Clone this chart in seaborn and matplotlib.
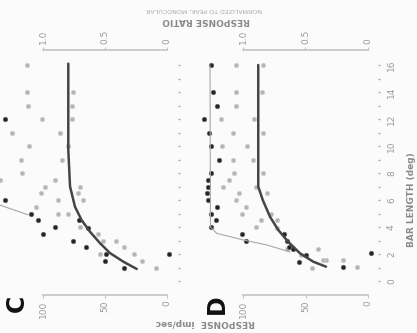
import numpy as np
import pandas as pd
import matplotlib
matplotlib.use("Agg")
import matplotlib.pyplot as plt
import seaborn as sns

sns.set_theme(style="white")
plt.rcParams['font.family'] = ['DejaVu Sans']

# ---------------- data (response imp/sec, bar length deg) ----------------
c_black_resp = [131, 131, 110, 104, 71, 90, 64, 100, 76, 65, 49, 50, 35, -2]
c_black_len  = [12, 6, 5, 4.5, 4.5, 4, 3.9, 3.5, 3, 2.5, 2, 1.5, 1, 2]

c_gray_resp = [113, 113, 76, 112, 77, 101, 77, 125, 86, 111, 80, 118, 85, 117, 135, 90,
               98, 70, 102, 72, 88, 68, 106, 88, 80, 70, 56, 52, 41, 35, 54, 27, 20, 9]
c_gray_len  = [16, 14, 14, 13, 13, 12, 12, 11, 11, 10, 10, 9, 9, 8, 7.5, 7.5,
               7, 7, 6.5, 6.5, 6, 6, 5.5, 5, 5, 4, 3.5, 3, 3, 2.5, 2, 2, 1.5, 1]

c_fit_resp = [79.6, 79.6, 78.2, 74.2, 68.8, 62.1, 54.0, 46.0, 35.2, 24.4]
c_fit_len  = [16.1, 9.7, 7.0, 5.5, 4.5, 3.65, 2.8, 2.07, 1.43, 0.89]

c_thin_resp = [150, 134, 112]
c_thin_len  = [6.4, 5.6, 4.9]

d_black_resp = [126, 124, 121, 131, 127, 126, 119, 126, 128, 128, 129, 128, 121, 126,
                122, 126, 101, 67, 98, 65, 63, 60, 50, 55, 20, -2]
d_black_len  = [16, 14, 13, 12, 11, 10, 9, 8, 7.5, 7, 6.5, 6, 5.5, 5,
                4.5, 4, 3.5, 3.5, 3, 3, 2.5, 2.4, 1.9, 1.4, 1.05, 2.05]

d_gray_resp = [106, 84, 106, 85, 106, 118, 91, 108, 84, 117, 97, 108, 92, 107, 84, 111,
               116, 90, 103, 81, 106, 98, 101, 78, 86, 73, 90, 73, 65, 40, 54, 34,
               45, 9, 20, 36]
d_gray_len  = [16, 16, 14, 14, 13, 12, 12, 11, 11, 10, 10, 9, 9, 8, 8, 7.5,
               7, 7, 6.5, 6.5, 6, 5.5, 5, 5, 4.5, 4.5, 4, 3.9, 2.4, 2.4, 1.9, 1.55,
               0.95, 1.05, 1.55, 1.55]

d_fit_resp = [87.8, 87.8, 84.2, 78.4, 71.8, 63.8, 54.4, 43.8, 33.6]
d_fit_len  = [16.0, 7.0, 6.0, 4.76, 3.78, 2.9, 2.05, 1.43, 1.06]

d_thin_resp = [126.4, 126.0, 121.0, 99.8, 81.0, 62.4]
d_thin_len  = [16.0, 4.0, 3.53, 3.04, 2.67, 2.15]

len_ticks = [0, 2, 4, 6, 8, 10, 12, 14, 16]
resp_ticks = [100, 50, 0]
resp_tick_labels = ["100", "50", "0"]
ratio_ticks = [1.0, 0.5, 0.0]
ratio_tick_labels = ["1.0", "0.5", "0"]

# ---------------- figure ----------------
W, H = 417, 333
fig = plt.figure(figsize=(W / 100, H / 100), dpi=100)
fig.patch.set_facecolor("#fbfbfb")

BLACK = "#222222"
GRAY = "#b4b4b4"
SPINE = "#c4c4c4"
TXT = "#9a9a9a"

def px(x0, x1, y0, y1):
    return [x0 / W, 1 - y1 / H, (x1 - x0) / W, (y1 - y0) / H]

ylim = ((281 - 295) / 13.5, (281 - 50) / 13.5)

panels = [
    dict(pos=px(-20, 180, 50, 295), xlim=((167 + 20) / 1.24, (167 - 180) / 1.24),
         black=(c_black_resp, c_black_len), gray=(c_gray_resp, c_gray_len),
         fit=(c_fit_resp, c_fit_len), thin=(c_thin_resp, c_thin_len), labels=False),
    dict(pos=px(190, 380, 50, 295), xlim=((368 - 190) / 1.25, (368 - 380) / 1.25),
         black=(d_black_resp, d_black_len), gray=(d_gray_resp, d_gray_len),
         fit=(d_fit_resp, d_fit_len), thin=(d_thin_resp, d_thin_len), labels=True),
]

for p in panels:
    ax = fig.add_axes(p["pos"])
    ax.set_facecolor("none")
    thin = pd.DataFrame({"r": p["thin"][0], "l": p["thin"][1]})
    fit = pd.DataFrame({"r": p["fit"][0], "l": p["fit"][1]})
    gray = pd.DataFrame({"r": p["gray"][0], "l": p["gray"][1]})
    black = pd.DataFrame({"r": p["black"][0], "l": p["black"][1]})
    sns.lineplot(data=thin, x="r", y="l", sort=False, estimator=None, ax=ax,
                 color="#a8a8a8", lw=0.8)
    sns.scatterplot(data=gray, x="r", y="l", ax=ax, color=GRAY, s=10,
                    edgecolor="#d0d0d0", linewidth=0.6)
    sns.lineplot(data=fit, x="r", y="l", sort=False, estimator=None, ax=ax,
                 color="#454545", lw=1.8)
    sns.scatterplot(data=black, x="r", y="l", ax=ax, color=BLACK, s=10,
                    edgecolor="#666666", linewidth=0.6)
    ax.set_xlim(*p["xlim"])
    ax.set_ylim(*ylim)
    ax.set_xlabel("")
    ax.set_ylabel("")
    for s in ["left", "right"]:
        ax.spines[s].set_visible(False)
    ax.spines["top"].set_visible(False)
    ax.spines["bottom"].set_color(SPINE)
    ax.spines["bottom"].set_linewidth(1.2)
    ax.spines["bottom"].set_bounds(0, 100)
    ax.set_xticks(resp_ticks)
    ax.set_xticklabels(resp_tick_labels)
    ax.tick_params(axis="x", bottom=True, length=2, width=0.8, color=SPINE,
                   labelrotation=90, labelsize=6.5, labelcolor=TXT, pad=2)
    # bar length axis (right side, dotted ticks)
    ax.yaxis.tick_right()
    ax.set_yticks(len_ticks)
    ax.set_yticks(np.arange(0, 17, 1), minor=True)
    ax.tick_params(axis="y", which="both", right=True, left=False, length=1.5,
                   width=1.0, color="#a8a8a8", direction="in")
    if p["labels"]:
        ax.set_yticklabels([str(t) for t in len_ticks])
        ax.tick_params(axis="y", labelright=True, labelrotation=90, labelsize=6.5,
                       labelcolor=TXT, pad=5)
        for t in ax.get_yticklabels():
            t.set_va("center")
    else:
        ax.tick_params(axis="y", labelright=False)
    # response ratio axis on top
    sec = ax.secondary_xaxis("top", functions=(lambda x: x / 100, lambda x: x * 100))
    sec.set_xticks(ratio_ticks)
    sec.set_xticklabels(ratio_tick_labels)
    sec.spines["top"].set_color(SPINE)
    sec.spines["top"].set_linewidth(1.2)
    sec.spines["top"].set_bounds(0, 1)
    sec.tick_params(axis="x", length=2, width=0.8, color=SPINE, labelrotation=90,
                    labelsize=6.5, labelcolor=TXT, pad=2)

# texts
fig.text(205 / W, 1 - 322 / H, "RESPONSE  imp/sec", rotation=180, ha="center",
         va="center", fontsize=6.5, color="#8a8a8a", fontweight="bold")
fig.text(206 / W, 1 - 21 / H, "RESPONSE RATIO", rotation=180, ha="center",
         va="center", fontsize=6.5, color="#8a8a8a", fontweight="bold")
fig.text(204 / W, 1 - 10 / H, "NORMALIZED TO PEAK, MONOCULAR", rotation=180,
         ha="center", va="center", fontsize=4.5, color="#a8a8a8")
fig.text(412 / W, 1 - 200 / H, "BAR LENGTH (deg)", rotation=90, ha="center",
         va="center", fontsize=6.5, color="#8a8a8a", fontweight="bold")
fig.text(17 / W, 1 - 303 / H, "C", rotation=90, ha="center", va="center",
         fontsize=17, color="#111111", fontweight="bold")
fig.text(217 / W, 1 - 304 / H, "D", rotation=90, ha="center", va="center",
         fontsize=17, color="#111111", fontweight="bold")

fig.savefig("out.png", dpi=100, facecolor=fig.get_facecolor())
